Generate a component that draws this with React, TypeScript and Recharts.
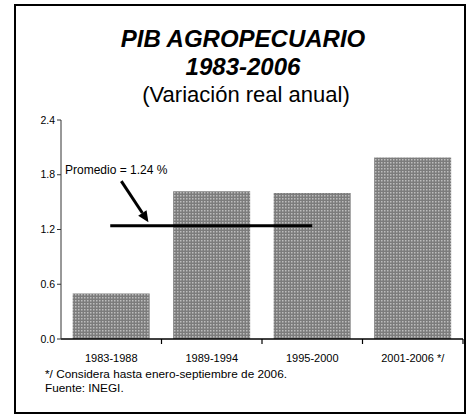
import React from 'react';
import { BarChart, Bar, XAxis, YAxis, ReferenceLine } from 'recharts';

const categories = ['1983-1988', '1989-1994', '1995-2000', '2001-2006 */'];
const values = [0.5, 1.62, 1.6, 1.99];
const yTicks = [0, 0.6, 1.2, 1.8, 2.4];
const average = 1.24;
const averageLabel = 'Promedio = 1.24 %';
const titleLines = ['PIB AGROPECUARIO', '1983-2006'];
const subtitle = '(Variación real anual)';
const footnotes = ['*/ Considera hasta enero-septiembre de 2006.', 'Fuente: INEGI.'];

// annotation positions in data units (numeric helper axis 0..4 = category span)
const avgSpan = [0.49, 2.5];
const arrowFrom = { x: 0.6, y: 1.73 };
const arrowTo = { x: 0.87, y: 1.28 };

const data = categories.map((c, i) => ({ name: c, value: values[i], pos: i + 0.5 }));

const FONT = '"Liberation Sans", Arial, sans-serif';

const XTick = (props: any) => {
  const { x, y, payload, index, visibleTicksCount, width } = props;
  const half = payload && payload.offset ? payload.offset : width / visibleTicksCount / 2;
  const axisY = y - 15;
  return (
    <g>
      <text x={x} y={y} dy="0.71em" textAnchor="middle" fontSize={11} fontFamily={FONT} fill="#000">
        {payload.value}
      </text>
      <line x1={x + half} x2={x + half} y1={axisY} y2={axisY + 5} stroke="#000" strokeWidth={1.2} />
    </g>
  );
};

const ArrowShape = (props: any) => {
  const { x1, y1, x2, y2 } = props;
  const ang = Math.atan2(y2 - y1, x2 - x1);
  const len = 11;
  const w = 5;
  const bx = x2 - len * Math.cos(ang);
  const by = y2 - len * Math.sin(ang);
  const px = -Math.sin(ang) * w;
  const py = Math.cos(ang) * w;
  return (
    <g>
      <line x1={x1} y1={y1} x2={bx} y2={by} stroke="#000" strokeWidth={3} />
      <polygon points={`${x2},${y2} ${bx + px},${by + py} ${bx - px},${by - py}`} fill="#000" />
    </g>
  );
};

export default function App() {
  return (
    <div style={{ position: 'absolute', left: 0, top: 0, width: 467, height: 414, background: '#fff' }}>
      <BarChart
        width={467}
        height={414}
        data={data}
        margin={{ top: 120, right: 4, bottom: 45, left: 21 }}
        barCategoryGap="11.6%"
      >
        <defs>
          <pattern id="dots" width="3" height="3" patternUnits="userSpaceOnUse">
            <rect width="3" height="3" fill="#7c7c7c" />
            <rect width="1.5" height="1.5" fill="#bdbdbd" />
          </pattern>
        </defs>
        <XAxis
          dataKey="name"
          height={30}
          tickLine={false}
          tickSize={5}
          tickMargin={10}
          axisLine={{ stroke: '#000', strokeWidth: 1.5 }}
          tick={<XTick />}
          interval={0}
        />
        <XAxis xAxisId="num" dataKey="pos" type="number" domain={[0, 4]} allowDataOverflow hide />
        <YAxis
          width={40}
          domain={[0, 2.4]}
          ticks={yTicks}
          tickFormatter={(v: number) => v.toFixed(1)}
          tickSize={4}
          tick={{ fontSize: 10.5, fill: '#000', fontFamily: FONT }}
          axisLine={{ stroke: '#333', strokeWidth: 1 }}
          tickLine={{ stroke: '#333' }}
        />
        <Bar dataKey="value" fill="url(#dots)" isAnimationActive={false} />
        <ReferenceLine
          xAxisId="num"
          segment={[{ x: avgSpan[0], y: average }, { x: avgSpan[1], y: average }]}
          stroke="#000"
          strokeWidth={3}
        />
        <ReferenceLine
          xAxisId="num"
          segment={[arrowFrom, arrowTo]}
          stroke="#000"
          shape={<ArrowShape />}
        />
      </BarChart>
      <svg
        width={467}
        height={414}
        style={{ position: 'absolute', left: 0, top: 0, pointerEvents: 'none' }}
      >
        <rect x={15} y={5} width={450} height={408} fill="none" stroke="#000" strokeWidth={2} />
        <text x={243} y={47} textAnchor="middle" fontSize={24} fontWeight="bold" fontStyle="italic" fontFamily={FONT}>
          {titleLines[0]}
        </text>
        <text x={243} y={75} textAnchor="middle" fontSize={24} fontWeight="bold" fontStyle="italic" fontFamily={FONT}>
          {titleLines[1]}
        </text>
        <text x={246} y={102} textAnchor="middle" fontSize={22} fontFamily={FONT}>
          {subtitle}
        </text>
        <text x={65} y={174} fontSize={12} fontFamily={FONT}>
          {averageLabel}
        </text>
        <text x={45} y={378} fontSize={11.8} fontFamily={FONT}>
          {footnotes[0]}
        </text>
        <text x={45} y={392} fontSize={11.8} fontFamily={FONT}>
          {footnotes[1]}
        </text>
      </svg>
    </div>
  );
}
